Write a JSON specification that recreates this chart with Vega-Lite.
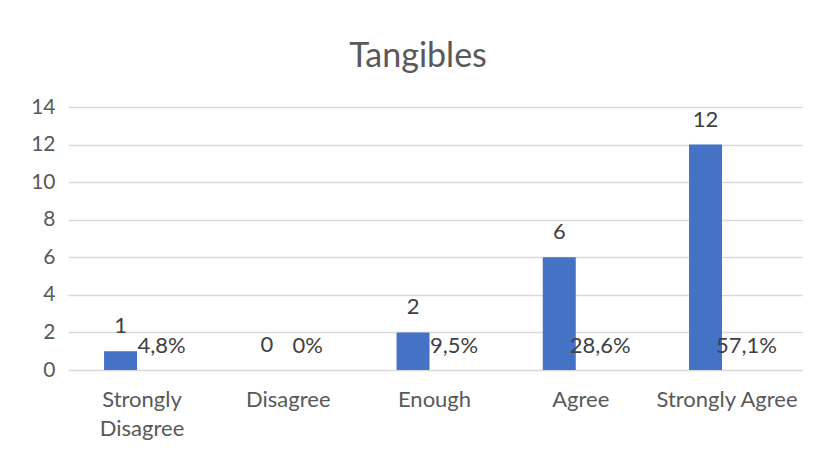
{
  "$schema": "https://vega.github.io/schema/vega-lite/v6.json",
  "width": 734,
  "height": 263,
  "autosize": "none",
  "padding": {"left": 68, "top": 107, "right": 21, "bottom": 87},
  "background": "white",
  "title": {
    "text": "Tangibles",
    "font": "Lato",
    "fontSize": 34,
    "fontWeight": "normal",
    "color": "#595959",
    "anchor": "middle",
    "dx": -17,
    "offset": 22
  },
  "config": {
    "view": {"stroke": null},
    "font": "Lato"
  },
  "data": {
    "values": [
      {"category": "Strongly Disagree", "series": "Count", "value": 1, "label": "1"},
      {"category": "Strongly Disagree", "series": "Percent", "value": 0.048, "label": "4,8%"},
      {"category": "Disagree", "series": "Count", "value": 0, "label": "0"},
      {"category": "Disagree", "series": "Percent", "value": 0, "label": "0%"},
      {"category": "Enough", "series": "Count", "value": 2, "label": "2"},
      {"category": "Enough", "series": "Percent", "value": 0.095, "label": "9,5%"},
      {"category": "Agree", "series": "Count", "value": 6, "label": "6"},
      {"category": "Agree", "series": "Percent", "value": 0.286, "label": "28,6%"},
      {"category": "Strongly Agree", "series": "Count", "value": 12, "label": "12"},
      {"category": "Strongly Agree", "series": "Percent", "value": 0.571, "label": "57,1%"}
    ]
  },
  "encoding": {
    "x": {
      "field": "category",
      "type": "nominal",
      "sort": ["Strongly Disagree", "Disagree", "Enough", "Agree", "Strongly Agree"],
      "scale": {"paddingInner": 0.549, "paddingOuter": 0.284, "align": 0.434},
      "axis": {
        "title": null,
        "labelAngle": 0,
        "ticks": false,
        "domain": false,
        "labelFont": "Lato",
        "labelFontSize": 22,
        "labelColor": "#595959",
        "labelPadding": 19,
        "labelOffset": 5,
        "labelBaseline": "top",
        "labelLineHeight": 29,
        "labelExpr": "datum.value == 'Strongly Disagree' ? ['Strongly', 'Disagree'] : datum.value"
      }
    },
    "xOffset": {
      "field": "series",
      "sort": ["Count", "Percent"],
      "scale": {"paddingInner": 0, "paddingOuter": 0}
    },
    "y": {
      "field": "value",
      "type": "quantitative",
      "scale": {"domain": [0, 14]},
      "axis": {
        "title": null,
        "values": [0, 2, 4, 6, 8, 10, 12, 14],
        "ticks": false,
        "domain": false,
        "gridColor": "#d9d9d9",
        "gridWidth": 1.5,
        "labelFont": "Lato",
        "labelFontSize": 21,
        "labelColor": "#595959",
        "labelPadding": 13
      }
    }
  },
  "layer": [
    {
      "transform": [{"filter": "datum.series == 'Count'"}],
      "mark": {"type": "bar", "color": "#4472C4"}
    },
    {
      "transform": [{"filter": "datum.series == 'Count'"}],
      "mark": {
        "type": "text",
        "baseline": "alphabetic",
        "dy": -18,
        "fontSize": 22,
        "color": "#404040"
      },
      "encoding": {"text": {"field": "label"}}
    },
    {
      "transform": [{"filter": "datum.series == 'Percent'"}],
      "mark": {
        "type": "text",
        "baseline": "alphabetic",
        "dy": -17,
        "dx": 8,
        "fontSize": 22,
        "color": "#404040"
      },
      "encoding": {
        "y": {"datum": 0},
        "text": {"field": "label"}
      }
    }
  ]
}
